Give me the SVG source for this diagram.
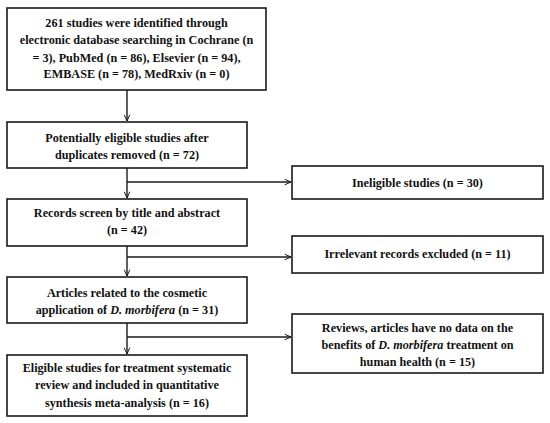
<svg xmlns="http://www.w3.org/2000/svg" width="550" height="423" viewBox="0 0 550 423">
<style>
.box{fill:#fff;stroke:#1a1a1a;stroke-width:1.6}
.t{font-family:"Liberation Serif","Times New Roman",serif;font-weight:bold;font-size:12.2px;fill:#111;text-anchor:middle}
.ln{fill:none;stroke:#1a1a1a;stroke-width:1.4}
</style>
<defs>
<marker id="ah" viewBox="0 0 10 10" refX="10" refY="5" markerWidth="7" markerHeight="7" markerUnits="userSpaceOnUse" orient="auto">
<path d="M1,1 L10,5 L1,9" fill="none" stroke="#1a1a1a" stroke-width="1.4"/>
</marker>
</defs>
<rect width="550" height="423" fill="#fff"/>
<g id="connectors">
<line class="ln" x1="127" y1="90" x2="127" y2="121" marker-end="url(#ah)"/>
<line class="ln" x1="127" y1="168" x2="127" y2="198" marker-end="url(#ah)"/>
<line class="ln" x1="127" y1="182" x2="291" y2="182" marker-end="url(#ah)"/>
<line class="ln" x1="127" y1="246" x2="127" y2="276" marker-end="url(#ah)"/>
<line class="ln" x1="127" y1="257" x2="291" y2="257" marker-end="url(#ah)"/>
<line class="ln" x1="127" y1="323" x2="127" y2="354" marker-end="url(#ah)"/>
<line class="ln" x1="127" y1="337" x2="291" y2="337" marker-end="url(#ah)"/>
</g>
<g id="identified">
<rect class="box" x="7" y="8" width="259" height="82"/>
<text class="t" x="136.5" y="27">261 studies were identified through</text>
<text class="t" x="136.5" y="44">electronic database searching in Cochrane (n</text>
<text class="t" x="136.5" y="61.5">= 3), PubMed (n = 86), Elsevier (n = 94),</text>
<text class="t" x="136.5" y="78">EMBASE (n = 78), MedRxiv (n = 0)</text>
</g>
<g id="eligible">
<rect class="box" x="7" y="122" width="240" height="46"/>
<text class="t" x="127" y="141.5">Potentially eligible studies after</text>
<text class="t" x="127" y="159">duplicates removed (n = 72)</text>
</g>
<g id="screen">
<rect class="box" x="7" y="199" width="240" height="47"/>
<text class="t" x="127" y="217">Records screen by title and abstract</text>
<text class="t" x="127" y="234">(n = 42)</text>
</g>
<g id="articles">
<rect class="box" x="7" y="277" width="240" height="46"/>
<text class="t" x="127" y="296.5">Articles related to the cosmetic</text>
<text class="t" x="127" y="314">application of <tspan font-style="italic">D. morbifera</tspan> (n = 31)</text>
</g>
<g id="included">
<rect class="box" x="7" y="355" width="240" height="61"/>
<text class="t" x="127" y="372">Eligible studies for treatment systematic</text>
<text class="t" x="127" y="389">review and included in quantitative</text>
<text class="t" x="127" y="406.5">synthesis meta-analysis (n = 16)</text>
</g>
<g id="ineligible">
<rect class="box" x="292" y="166" width="251" height="33"/>
<text class="t" x="417.5" y="187">Ineligible studies (n = 30)</text>
</g>
<g id="irrelevant">
<rect class="box" x="292" y="236" width="251" height="37"/>
<text class="t" x="417.5" y="257.5">Irrelevant records excluded (n = 11)</text>
</g>
<g id="reviews">
<rect class="box" x="292" y="314" width="251" height="59"/>
<text class="t" x="417.5" y="331.5">Reviews, articles have no data on the</text>
<text class="t" x="417.5" y="348.5">benefits of <tspan font-style="italic">D. morbifera</tspan> treatment on</text>
<text class="t" x="417.5" y="365.5">human health (n = 15)</text>
</g>
</svg>
